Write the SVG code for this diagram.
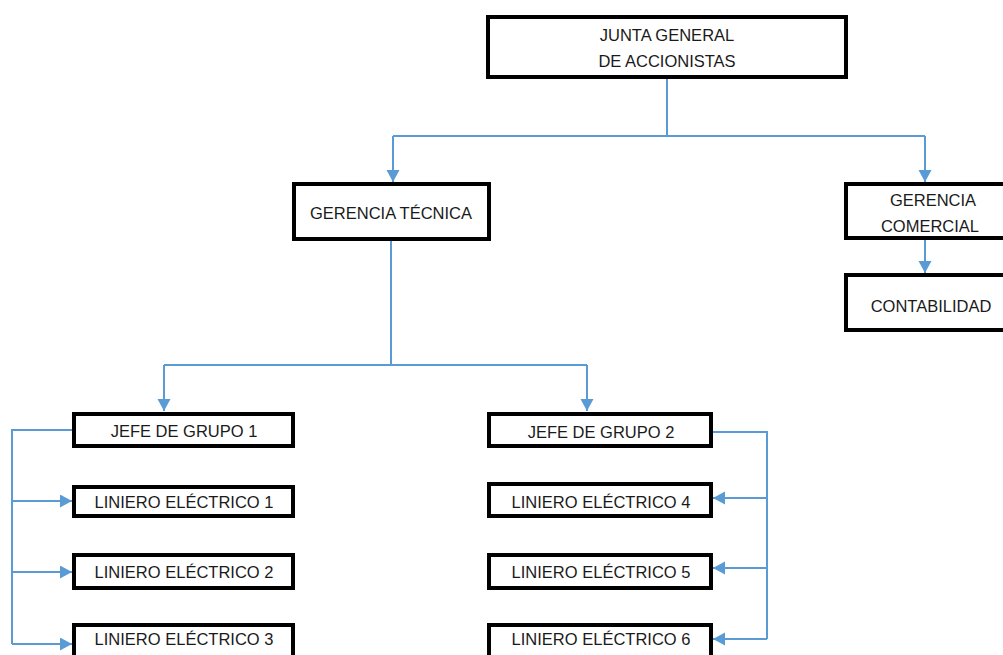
<svg xmlns="http://www.w3.org/2000/svg" width="1003" height="655" viewBox="0 0 1003 655">
  <style>
    .box { fill: #ffffff; stroke: #000000; stroke-width: 4; }
    .lbl { font-family: "Liberation Sans", Arial, sans-serif; font-size: 16.5px; fill: #1a1a1a; text-anchor: middle; }
    .wire { fill: none; stroke: #5B9BD5; stroke-width: 2; }
    .arrow { marker-end: url(#tip); }
  </style>
  <defs>
    <marker id="tip" markerUnits="userSpaceOnUse" markerWidth="13" markerHeight="14" refX="12" refY="6.5" orient="auto">
      <path d="M0,0 L12,6.5 L0,13 z" fill="#5B9BD5"/>
    </marker>
  </defs>
  <rect width="1003" height="655" fill="#ffffff"/>

  <!-- connectors -->
  <g id="connectors">
    <path class="wire" d="M667,79 V136 M393,136 H925"/>
    <path class="wire arrow" d="M393,136 V182"/>
    <path class="wire arrow" d="M925,136 V182"/>
    <path class="wire arrow" d="M925,240 V273"/>
    <path class="wire" d="M391,241 V365 M164,365 H587"/>
    <path class="wire arrow" d="M164,365 V411"/>
    <path class="wire arrow" d="M587,365 V411"/>
    <!-- group 1 bus -->
    <path class="wire" d="M72,430 H12 V644"/>
    <path class="wire arrow" d="M12,501 H72"/>
    <path class="wire arrow" d="M12,572 H72"/>
    <path class="wire arrow" d="M12,644 H72"/>
    <!-- group 2 bus -->
    <path class="wire" d="M713,432 H767 V639"/>
    <path class="wire arrow" d="M767,498 H713"/>
    <path class="wire arrow" d="M767,568 H713"/>
    <path class="wire arrow" d="M767,639 H713"/>
  </g>

  <g id="junta">
    <rect class="box" x="488" y="17" width="358" height="60"/>
    <text class="lbl" x="667" y="41">JUNTA GENERAL</text>
    <text class="lbl" x="667" y="67">DE ACCIONISTAS</text>
  </g>
  <g id="gerencia-tecnica">
    <rect class="box" x="294" y="184" width="195" height="55"/>
    <text class="lbl" x="391" y="219">GERENCIA TÉCNICA</text>
  </g>
  <g id="gerencia-comercial">
    <rect class="box" x="846" y="184" width="170" height="54"/>
    <text class="lbl" x="933" y="206">GERENCIA</text>
    <text class="lbl" x="930" y="232">COMERCIAL</text>
  </g>
  <g id="contabilidad">
    <rect class="box" x="846" y="275" width="170" height="55"/>
    <text class="lbl" x="931" y="312">CONTABILIDAD</text>
  </g>

  <g id="jefe-1">
    <rect class="box" x="74" y="414" width="219" height="32"/>
    <text class="lbl" x="184" y="437">JEFE DE GRUPO 1</text>
  </g>
  <g id="liniero-1">
    <rect class="box" x="74" y="487" width="219" height="29"/>
    <text class="lbl" x="184" y="508">LINIERO ELÉCTRICO 1</text>
  </g>
  <g id="liniero-2">
    <rect class="box" x="74" y="555" width="219" height="33"/>
    <text class="lbl" x="184" y="578">LINIERO ELÉCTRICO 2</text>
  </g>
  <g id="liniero-3">
    <rect class="box" x="74" y="625" width="219" height="32"/>
    <text class="lbl" x="184" y="645">LINIERO ELÉCTRICO 3</text>
  </g>

  <g id="jefe-2">
    <rect class="box" x="489" y="414" width="222" height="32"/>
    <text class="lbl" x="601" y="438">JEFE DE GRUPO 2</text>
  </g>
  <g id="liniero-4">
    <rect class="box" x="489" y="484" width="222" height="32"/>
    <text class="lbl" x="601" y="508">LINIERO ELÉCTRICO 4</text>
  </g>
  <g id="liniero-5">
    <rect class="box" x="489" y="555" width="222" height="33"/>
    <text class="lbl" x="601" y="578">LINIERO ELÉCTRICO 5</text>
  </g>
  <g id="liniero-6">
    <rect class="box" x="489" y="625" width="222" height="32"/>
    <text class="lbl" x="601" y="645">LINIERO ELÉCTRICO 6</text>
  </g>
</svg>
